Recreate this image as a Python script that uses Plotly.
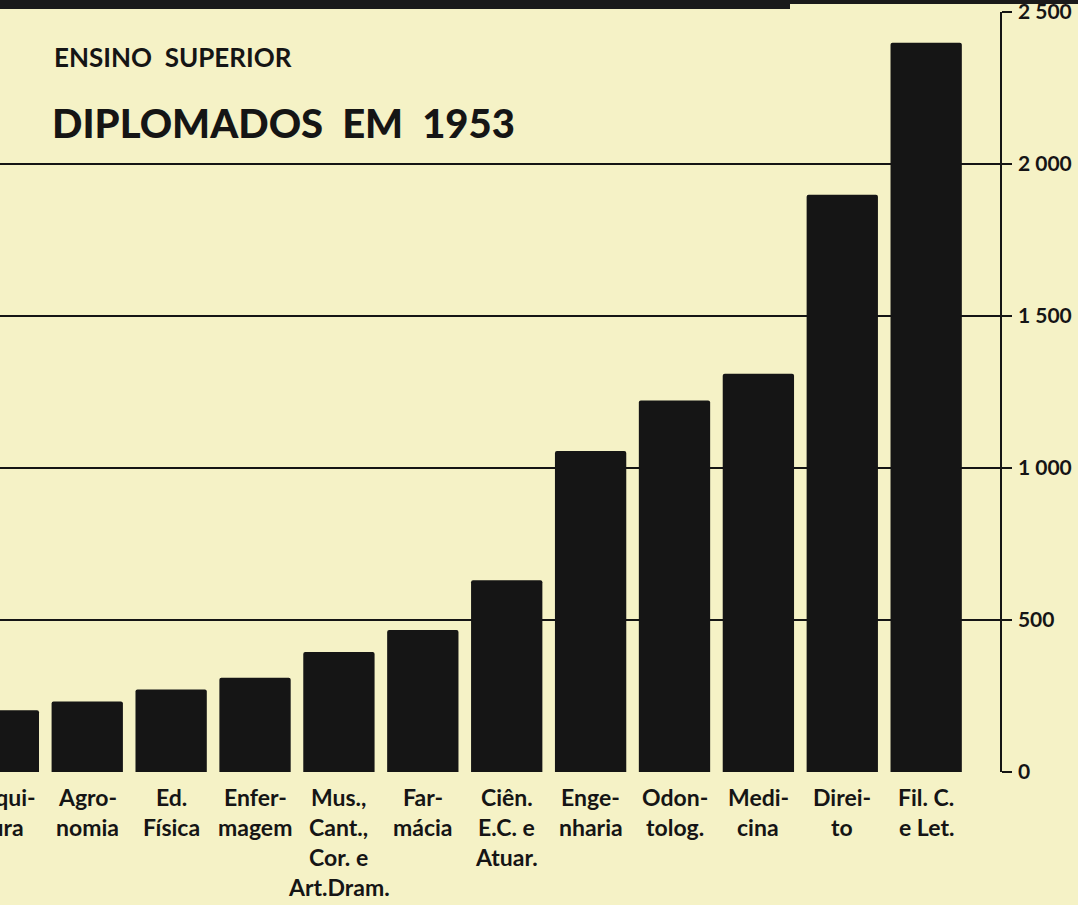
import plotly.graph_objects as go

categories = ["Arquitetura", "Agronomia", "Ed. Física", "Enfermagem",
              "Mus., Cant., Cor. e Art.Dram.", "Farmácia",
              "Ciên. E.C. e Atuar.", "Engenharia", "Odontolog.",
              "Medicina", "Direito", "Fil. C. e Let."]
label_lines = [["Arqui-", "tura"], ["Agro-", "nomia"], ["Ed.", "Física"], ["Enfer-", "magem"],
               ["Mus.,", "Cant.,", "Cor. e", "Art.Dram."], ["Far-", "mácia"],
               ["Ciên.", "E.C. e", "Atuar."], ["Enge-", "nharia"], ["Odon-", "tolog."],
               ["Medi-", "cina"], ["Direi-", "to"], ["Fil. C.", "e Let."]]
diplomados = [203, 232, 271, 310, 395, 467, 631, 1056, 1222, 1310, 1899, 2399]
tick_vals = [0, 500, 1000, 1500, 2000, 2500]
tick_text = ["0", "500", "1 000", "1 500", "2 000", "2 500"]

BG = "#f5f2c6"
INK = "#151515"

fig = go.Figure()
fig.add_trace(go.Bar(
    x=categories, y=diplomados,
    marker=dict(color=INK, line=dict(width=0), cornerradius=2),
    width=0.85, hoverinfo="skip",
))

W, H = 1078, 905
ml, mr, mt, mb = 0, 78, 12, 133
pw, ph = W - ml - mr, H - mt - mb

def px_to_paper(px, py):
    return (px - ml) / pw, (H - mb - py) / ph

fig.update_layout(
    width=W, height=H,
    margin=dict(l=ml, r=mr, t=mt, b=mb, autoexpand=False),
    paper_bgcolor=BG, plot_bgcolor=BG,
    showlegend=False,
    font=dict(family="Lato, 'Open Sans', sans-serif", color=INK),
)
fig.update_xaxes(
    type="category", range=[-0.04, 11.88],
    showgrid=False, showline=False, zeroline=False,
    ticks="", showticklabels=False, automargin=False,
)
fig.update_yaxes(
    range=[0, 2500], side="right", automargin=False,
    tickvals=tick_vals, ticktext=tick_text,
    showgrid=True, gridcolor=INK, gridwidth=1.5,
    zeroline=False,
    showline=True, linecolor=INK, linewidth=1.5, mirror=False,
    ticks="outside", ticklen=10, tickcolor=INK, tickwidth=1.5,
    ticklabelstandoff=2, ticklabeloverflow="allow",
    tickfont=dict(size=21, family="Lato", color=INK, weight="bold"),
)

# category labels, one line each, spaced like the original lettering
for cat, lines in zip(categories, label_lines):
    for i, line in enumerate(lines):
        _, ly = px_to_paper(0, 797 + 30 * i)
        fig.add_annotation(xref="x", yref="paper", x=cat, y=ly,
                           xanchor="center", yanchor="middle", text=line,
                           showarrow=False,
                           font=dict(size=23, family="Lato", color=INK, weight="bold"))

# top dark band of the scan
def band(px0, px1, py1):
    xa, ytop = px_to_paper(px0, -20)
    xb, ybot = px_to_paper(px1, py1)
    fig.add_shape(type="rect", xref="paper", yref="paper", x0=xa, x1=xb,
                  y0=ybot, y1=ytop, fillcolor="#1a1a1a", line=dict(width=0), layer="below")

band(-10, 790, 9)
band(790, 1090, 4)

ax, ay = px_to_paper(52, 57)
fig.add_annotation(xref="paper", yref="paper", x=ax, y=ay, xanchor="left", yanchor="middle",
                   text="ENSINO  SUPERIOR", showarrow=False,
                   font=dict(size=26, family="Lato", color=INK, weight="bold"))
ax, ay = px_to_paper(50, 123)
fig.add_annotation(xref="paper", yref="paper", x=ax, y=ay, xanchor="left", yanchor="middle",
                   text="DIPLOMADOS  EM  1953", showarrow=False,
                   font=dict(size=40, family="Lato", color=INK, weight=900))

fig.write_html("out.html", config={"displayModeBar": False},
               post_script="document.body.style.margin='0px';")
